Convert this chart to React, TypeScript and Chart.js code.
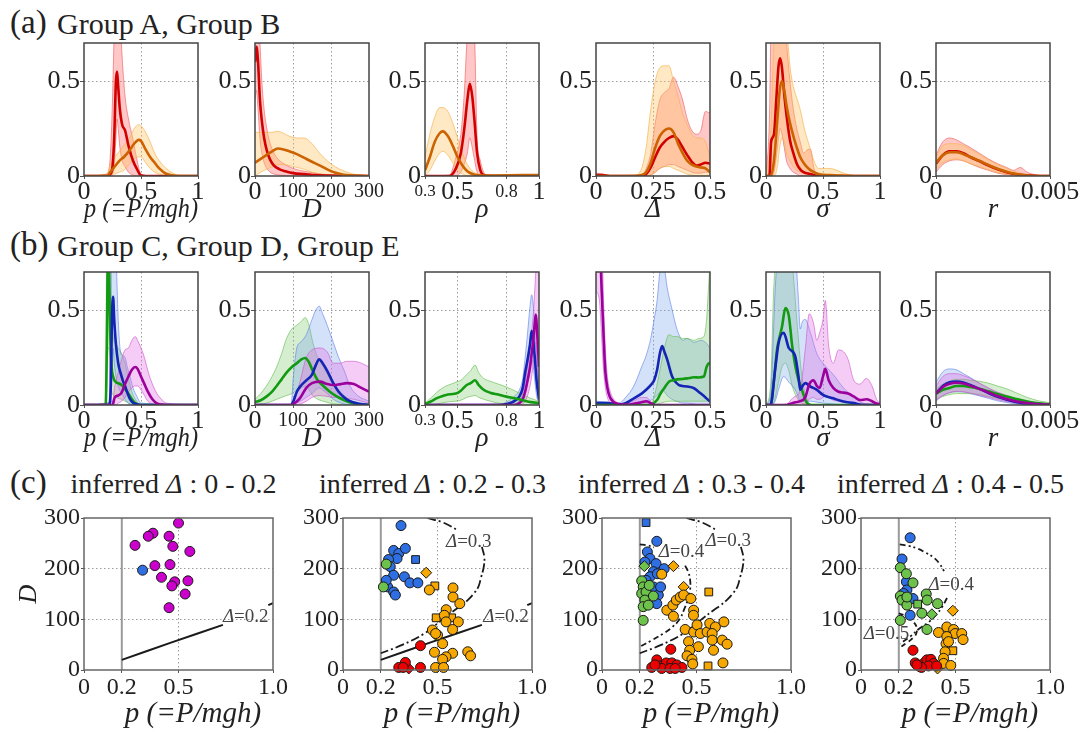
import React, { useEffect, useRef } from 'react';
import { Chart, registerables } from 'chart.js';

Chart.register(...registerables);

const SERIF = '"Liberation Serif", "DejaVu Serif", "Noto Serif", serif';
Chart.defaults.font.family = SERIF;
Chart.defaults.color = '#222';

// ---------------- headings ----------------
const rowHeadings = ['Group A, Group B', 'Group C, Group D, Group E'];
const scatterRanges = ['0 - 0.2', '0.2 - 0.3', '0.3 - 0.4', '0.4 - 0.5'];

// ---------------- density axes (values + labels) ----------------
const densYTicks = [0, 0.5];
const densYLabels = ['0', '0.5'];
const pTicks = [0, 0.5, 1];
const pTickLabels = ['0', '0.5', '1'];
const dTicks = [0, 100, 200, 300];
const dTickLabels = ['0', '100', '200', '300'];
const rhoTicks = [0.3, 0.5, 0.8, 1];
const rhoTickLabels = ['0.3', '0.5', '0.8', '1'];
const deltaTicks = [0, 0.25, 0.5];
const deltaTickLabels = ['0', '0.25', '0.5'];
const sigmaTicks = [0, 0.5, 1];
const sigmaTickLabels = ['0', '0.5', '1'];
const rTicks = [0, 0.005];
const rTickLabels = ['0', '0.005'];

// ---------------- row (a): Group A (red), Group B (orange) ----------------
const a1Red = {
  x: [0, 0.2, 0.23, 0.25, 0.265, 0.28, 0.29, 0.3, 0.315, 0.335, 0.36, 0.39, 0.43, 0.47, 0.5, 0.6, 1],
  mean: [0, 0, 0.01, 0.05, 0.2, 0.5, 0.55, 0.47, 0.35, 0.27, 0.24, 0.16, 0.08, 0.03, 0.003, 0, 0],
  upper: [0, 0.01, 0.1, 0.4, 0.75, 0.9, 0.9, 0.88, 0.85, 0.62, 0.42, 0.3, 0.19, 0.07, 0.01, 0, 0],
  lower: [0, 0, 0, 0.01, 0.05, 0.2, 0.3, 0.25, 0.15, 0.08, 0.05, 0.02, 0.005, 0, 0, 0, 0],
};
const a1Orange = {
  x: [0, 0.2, 0.23, 0.27, 0.31, 0.35, 0.4, 0.44, 0.48, 0.5, 0.54, 0.58, 0.62, 0.66, 0.72, 0.78, 0.85, 1],
  mean: [0, 0, 0.02, 0.05, 0.08, 0.1, 0.135, 0.17, 0.19, 0.185, 0.14, 0.1, 0.07, 0.04, 0.012, 0.003, 0, 0],
  upper: [0, 0.01, 0.06, 0.1, 0.13, 0.16, 0.2, 0.25, 0.27, 0.265, 0.23, 0.18, 0.12, 0.08, 0.04, 0.015, 0.002, 0],
  lower: [0, 0, 0, 0.01, 0.02, 0.03, 0.065, 0.09, 0.1, 0.1, 0.07, 0.04, 0.02, 0.01, 0, 0, 0, 0],
};
const a2Red = {
  x: [0, 4, 8, 13, 18, 24, 31, 40, 50, 65, 80, 100, 130, 160, 200, 300],
  mean: [0.6, 0.68, 0.6, 0.4, 0.29, 0.2, 0.135, 0.085, 0.055, 0.035, 0.025, 0.015, 0.01, 0.005, 0.002, 0],
  upper: [0.9, 0.9, 0.85, 0.7, 0.5, 0.35, 0.25, 0.17, 0.12, 0.08, 0.06, 0.04, 0.025, 0.015, 0.005, 0],
  lower: [0.4, 0.45, 0.35, 0.2, 0.12, 0.07, 0.04, 0.02, 0.01, 0.005, 0.002, 0, 0, 0, 0, 0],
};
const a2Orange = {
  x: [0, 15, 30, 45, 60, 75, 90, 110, 130, 150, 170, 190, 210, 230, 255, 280, 300],
  mean: [0.07, 0.09, 0.11, 0.13, 0.145, 0.14, 0.13, 0.115, 0.095, 0.075, 0.056, 0.035, 0.018, 0.008, 0.003, 0.001, 0],
  upper: [0.23, 0.23, 0.23, 0.23, 0.235, 0.225, 0.21, 0.2, 0.2, 0.17, 0.12, 0.08, 0.05, 0.03, 0.012, 0.004, 0],
  lower: [0, 0.02, 0.035, 0.05, 0.06, 0.06, 0.055, 0.045, 0.035, 0.02, 0.01, 0.004, 0, 0, 0, 0, 0],
};
const a3Orange = {
  x: [0.3, 0.33, 0.36, 0.39, 0.41, 0.44, 0.47, 0.5, 0.53, 0.56, 0.6, 0.65, 0.75, 0.9, 1],
  mean: [0.03, 0.1, 0.18, 0.225, 0.235, 0.21, 0.16, 0.1, 0.055, 0.025, 0.008, 0.002, 0.003, 0.005, 0.005],
  upper: [0.1, 0.22, 0.31, 0.36, 0.36, 0.34, 0.28, 0.2, 0.12, 0.06, 0.02, 0.008, 0.006, 0.008, 0.008],
  lower: [0, 0.03, 0.08, 0.12, 0.13, 0.11, 0.07, 0.03, 0.01, 0, 0, 0, 0, 0, 0],
};
const a3Red = {
  x: [0.3, 0.45, 0.49, 0.52, 0.54, 0.56, 0.575, 0.59, 0.605, 0.62, 0.64, 0.66, 0.7, 1],
  mean: [0, 0, 0.04, 0.12, 0.24, 0.4, 0.485, 0.42, 0.28, 0.12, 0.03, 0.005, 0, 0],
  upper: [0, 0.005, 0.1, 0.22, 0.42, 0.75, 0.9, 0.9, 0.72, 0.2, 0.08, 0.02, 0, 0],
  lower: [0, 0, 0, 0.02, 0.06, 0.12, 0.2, 0.15, 0.08, 0.02, 0, 0, 0, 0],
};
const a4Red = {
  x: [0, 0.03, 0.06, 0.2, 0.22, 0.24, 0.26, 0.28, 0.3, 0.32, 0.34, 0.36, 0.38, 0.4, 0.42, 0.44, 0.46, 0.48, 0.5],
  mean: [0.005, 0.005, 0, 0, 0.01, 0.045, 0.1, 0.15, 0.18, 0.2, 0.21, 0.19, 0.15, 0.11, 0.075, 0.055, 0.06, 0.07, 0.065],
  upper: [0.015, 0.01, 0, 0.005, 0.04, 0.12, 0.28, 0.4, 0.44, 0.46, 0.52, 0.47, 0.4, 0.3, 0.24, 0.22, 0.24, 0.34, 0.33],
  lower: [0, 0, 0, 0, 0, 0.005, 0.02, 0.04, 0.05, 0.06, 0.06, 0.05, 0.04, 0.03, 0.02, 0.015, 0.015, 0.02, 0.02],
};
const a4Orange = {
  x: [0, 0.17, 0.2, 0.22, 0.24, 0.26, 0.28, 0.3, 0.32, 0.34, 0.36, 0.38, 0.4, 0.42, 0.44, 0.46, 0.48, 0.5],
  mean: [0, 0, 0.005, 0.02, 0.07, 0.15, 0.21, 0.24, 0.25, 0.23, 0.17, 0.12, 0.08, 0.06, 0.05, 0.045, 0.04, 0.02],
  upper: [0, 0.005, 0.04, 0.15, 0.35, 0.5, 0.57, 0.58, 0.58, 0.5, 0.42, 0.33, 0.27, 0.22, 0.2, 0.2, 0.18, 0.1],
  lower: [0, 0, 0, 0, 0.005, 0.02, 0.04, 0.05, 0.05, 0.04, 0.03, 0.02, 0.01, 0.005, 0, 0, 0, 0],
};
const a5Red = {
  x: [0, 0.03, 0.045, 0.07, 0.09, 0.11, 0.125, 0.14, 0.16, 0.18, 0.21, 0.24, 0.27, 0.3, 0.33, 0.37, 0.39, 0.42, 0.45, 1],
  mean: [0, 0, 0.18, 0.22, 0.4, 0.58, 0.62, 0.57, 0.43, 0.32, 0.19, 0.12, 0.065, 0.035, 0.02, 0.013, 0.01, 0.005, 0, 0],
  upper: [0, 0.3, 0.8, 0.9, 0.9, 0.9, 0.9, 0.9, 0.85, 0.7, 0.5, 0.35, 0.25, 0.18, 0.12, 0.14, 0.14, 0.04, 0.01, 0],
  lower: [0, 0, 0, 0.02, 0.1, 0.2, 0.25, 0.22, 0.15, 0.08, 0.04, 0.02, 0.01, 0, 0, 0, 0, 0, 0, 0],
};
const a5Orange = {
  x: [0, 0.04, 0.07, 0.1, 0.12, 0.14, 0.16, 0.18, 0.21, 0.24, 0.27, 0.3, 0.34, 0.38, 0.42, 0.46, 0.5, 0.55, 0.6, 0.66, 0.72, 0.78, 1],
  mean: [0, 0, 0.08, 0.3, 0.45, 0.5, 0.45, 0.37, 0.28, 0.21, 0.15, 0.1, 0.06, 0.035, 0.02, 0.01, 0.006, 0.005, 0.004, 0.002, 0.001, 0, 0],
  upper: [0, 0.2, 0.7, 0.9, 0.9, 0.9, 0.9, 0.8, 0.58, 0.47, 0.41, 0.35, 0.24, 0.16, 0.08, 0.04, 0.04, 0.04, 0.035, 0.02, 0.008, 0, 0],
  lower: [0, 0, 0, 0.05, 0.15, 0.2, 0.18, 0.12, 0.08, 0.05, 0.03, 0.02, 0.01, 0, 0, 0, 0, 0, 0, 0, 0, 0, 0],
};
const a6X = [0, 0.0003, 0.0006, 0.0009, 0.0012, 0.0015, 0.0019, 0.0023, 0.0027, 0.0031, 0.0034, 0.0037, 0.004, 0.0045, 0.005];
const a6Red = {
  x: a6X,
  mean: [0.065, 0.11, 0.13, 0.13, 0.12, 0.1, 0.078, 0.055, 0.035, 0.02, 0.012, 0.006, 0.003, 0, 0],
  upper: [0.11, 0.18, 0.2, 0.19, 0.17, 0.15, 0.12, 0.09, 0.065, 0.045, 0.03, 0.045, 0.02, 0.004, 0],
  lower: [0.02, 0.06, 0.08, 0.085, 0.08, 0.065, 0.045, 0.03, 0.015, 0.007, 0.003, 0.001, 0, 0, 0],
};
const a6Orange = {
  x: a6X,
  mean: [0.07, 0.11, 0.125, 0.125, 0.115, 0.1, 0.08, 0.058, 0.038, 0.022, 0.013, 0.007, 0.003, 0, 0],
  upper: [0.1, 0.16, 0.17, 0.17, 0.16, 0.14, 0.115, 0.085, 0.06, 0.04, 0.025, 0.015, 0.008, 0.002, 0],
  lower: [0.035, 0.07, 0.085, 0.09, 0.08, 0.065, 0.05, 0.033, 0.02, 0.01, 0.005, 0.002, 0, 0, 0],
};

// ---------------- row (b): green, blue, purple ----------------
const b1Green = {
  x: [0, 0.19, 0.2, 0.21, 0.22, 0.23, 0.24, 0.26, 0.28, 0.3, 0.33, 0.36, 0.39, 0.42, 0.45, 0.5, 1],
  mean: [0, 0, 0.3, 0.8, 0.7, 0.38, 0.22, 0.14, 0.12, 0.115, 0.105, 0.085, 0.06, 0.03, 0.01, 0, 0],
  upper: [0, 0.01, 0.9, 0.9, 0.9, 0.8, 0.5, 0.35, 0.32, 0.3, 0.27, 0.22, 0.14, 0.07, 0.03, 0, 0],
  lower: [0, 0, 0.1, 0.3, 0.3, 0.15, 0.08, 0.05, 0.04, 0.035, 0.03, 0.02, 0.01, 0.003, 0, 0, 0],
};
const b1Blue = {
  x: [0, 0.22, 0.235, 0.245, 0.255, 0.265, 0.28, 0.3, 0.32, 0.34, 0.36, 0.38, 0.4, 0.43, 0.46, 0.5, 1],
  mean: [0, 0, 0.1, 0.45, 0.57, 0.45, 0.32, 0.22, 0.17, 0.13, 0.1, 0.065, 0.035, 0.012, 0.004, 0, 0],
  upper: [0, 0.01, 0.5, 0.9, 0.9, 0.9, 0.8, 0.45, 0.28, 0.26, 0.25, 0.2, 0.16, 0.09, 0.05, 0.01, 0],
  lower: [0, 0, 0.02, 0.15, 0.3, 0.22, 0.15, 0.1, 0.07, 0.05, 0.03, 0.015, 0.005, 0, 0, 0, 0],
};
const b1Purple = {
  x: [0, 0.25, 0.27, 0.3, 0.33, 0.36, 0.39, 0.42, 0.45, 0.47, 0.5, 0.53, 0.56, 0.6, 0.64, 0.68, 0.72, 1],
  mean: [0, 0, 0.04, 0.05, 0.065, 0.11, 0.15, 0.185, 0.2, 0.19, 0.15, 0.11, 0.07, 0.03, 0.008, 0.002, 0, 0],
  upper: [0, 0.02, 0.1, 0.17, 0.24, 0.29, 0.3, 0.34, 0.36, 0.34, 0.3, 0.25, 0.18, 0.11, 0.06, 0.03, 0.01, 0],
  lower: [0, 0, 0, 0.01, 0.02, 0.04, 0.07, 0.09, 0.1, 0.1, 0.08, 0.05, 0.02, 0.005, 0, 0, 0, 0],
};
const b2Green = {
  x: [0, 15, 30, 45, 57, 70, 83, 97, 110, 122, 132, 142, 152, 165, 180, 197, 215, 235, 255, 280, 300],
  mean: [0.015, 0.025, 0.044, 0.07, 0.1, 0.135, 0.17, 0.2, 0.22, 0.24, 0.247, 0.225, 0.18, 0.13, 0.1, 0.07, 0.045, 0.025, 0.01, 0.003, 0],
  upper: [0.03, 0.06, 0.1, 0.15, 0.2, 0.27, 0.35, 0.4, 0.42, 0.44, 0.46, 0.42, 0.33, 0.25, 0.2, 0.14, 0.09, 0.05, 0.02, 0.008, 0],
  lower: [0, 0.005, 0.01, 0.02, 0.03, 0.04, 0.05, 0.06, 0.08, 0.09, 0.1, 0.08, 0.05, 0.03, 0.02, 0.01, 0.005, 0, 0, 0, 0],
};
const b2Blue = {
  x: [0, 95, 101, 110, 120, 135, 150, 160, 169, 178, 190, 206, 220, 235, 250, 270, 300],
  mean: [0, 0, 0.02, 0.07, 0.1, 0.13, 0.16, 0.21, 0.24, 0.22, 0.18, 0.115, 0.07, 0.04, 0.02, 0.008, 0],
  upper: [0, 0, 0.15, 0.3, 0.33, 0.37, 0.45, 0.5, 0.52, 0.48, 0.42, 0.33, 0.25, 0.18, 0.1, 0.05, 0.02],
  lower: [0, 0, 0, 0.01, 0.02, 0.04, 0.06, 0.08, 0.09, 0.08, 0.06, 0.03, 0.015, 0.005, 0, 0, 0],
};
const b2Purple = {
  x: [0, 95, 101, 118, 135, 150, 171, 190, 206, 225, 241, 260, 280, 300],
  mean: [0, 0, 0.005, 0.035, 0.09, 0.115, 0.123, 0.11, 0.105, 0.11, 0.115, 0.11, 0.09, 0.07],
  upper: [0, 0, 0.02, 0.12, 0.25, 0.29, 0.3, 0.28, 0.22, 0.22, 0.23, 0.23, 0.22, 0.2],
  lower: [0, 0, 0, 0.005, 0.02, 0.04, 0.05, 0.045, 0.04, 0.04, 0.035, 0.03, 0.02, 0.01],
};
const b3Green = {
  x: [0.3, 0.34, 0.37, 0.4, 0.43, 0.46, 0.49, 0.52, 0.556, 0.58, 0.607, 0.63, 0.66, 0.7, 0.75, 0.8, 0.85, 0.9, 0.95, 1],
  mean: [0.005, 0.02, 0.035, 0.045, 0.053, 0.057, 0.06, 0.075, 0.105, 0.115, 0.13, 0.105, 0.08, 0.065, 0.055, 0.044, 0.035, 0.025, 0.015, 0.01],
  upper: [0.01, 0.04, 0.065, 0.085, 0.1, 0.11, 0.12, 0.13, 0.16, 0.18, 0.21, 0.17, 0.14, 0.125, 0.11, 0.095, 0.075, 0.055, 0.035, 0.02],
  lower: [0, 0, 0.005, 0.01, 0.015, 0.018, 0.02, 0.025, 0.04, 0.045, 0.05, 0.04, 0.03, 0.02, 0.01, 0.005, 0.002, 0, 0, 0],
};
const b3Blue = {
  x: [0.3, 0.76, 0.8, 0.84, 0.88, 0.9, 0.915, 0.93, 0.945, 0.955, 0.965, 0.975, 0.985, 1],
  mean: [0, 0, 0.005, 0.017, 0.045, 0.09, 0.17, 0.24, 0.32, 0.39, 0.34, 0.24, 0.13, 0.03],
  upper: [0, 0.005, 0.015, 0.04, 0.08, 0.14, 0.25, 0.38, 0.52, 0.58, 0.52, 0.4, 0.25, 0.08],
  lower: [0, 0, 0, 0.005, 0.02, 0.04, 0.08, 0.12, 0.18, 0.24, 0.2, 0.12, 0.05, 0.005],
};
const b3Purple = {
  x: [0.3, 0.85, 0.88, 0.9, 0.915, 0.93, 0.945, 0.955, 0.965, 0.975, 0.98, 0.99, 1],
  mean: [0, 0, 0.01, 0.03, 0.07, 0.13, 0.2, 0.27, 0.34, 0.44, 0.475, 0.36, 0.2],
  upper: [0, 0.005, 0.02, 0.06, 0.12, 0.2, 0.3, 0.38, 0.48, 0.62, 0.7, 0.8, 0.9],
  lower: [0, 0, 0, 0.005, 0.02, 0.05, 0.1, 0.15, 0.22, 0.3, 0.33, 0.2, 0.05],
};
const b4Purple = {
  x: [0, 0.015, 0.025, 0.032, 0.04, 0.05, 0.06, 0.075, 0.09, 0.11, 0.14, 0.17, 0.2, 0.22, 0.24, 0.26, 0.5],
  mean: [0.95, 0.9, 0.6, 0.4, 0.19, 0.09, 0.045, 0.018, 0.008, 0.003, 0.002, 0.008, 0.015, 0.02, 0.01, 0, 0],
  upper: [1, 1, 0.9, 0.6, 0.32, 0.15, 0.08, 0.035, 0.015, 0.008, 0.01, 0.025, 0.04, 0.04, 0.02, 0, 0],
  lower: [0.6, 0.55, 0.35, 0.2, 0.1, 0.04, 0.015, 0.005, 0, 0, 0, 0, 0.002, 0.005, 0, 0, 0],
};
const b4Blue = {
  x: [0, 0.05, 0.1, 0.13, 0.166, 0.2, 0.22, 0.24, 0.255, 0.268, 0.28, 0.29, 0.3, 0.312, 0.334, 0.35, 0.364, 0.38, 0.4, 0.43, 0.46, 0.48, 0.5],
  mean: [0.01, 0.01, 0.002, 0.01, 0.035, 0.06, 0.08, 0.105, 0.13, 0.185, 0.27, 0.31, 0.28, 0.24, 0.15, 0.12, 0.105, 0.1, 0.097, 0.088, 0.06, 0.04, 0.018],
  upper: [0.02, 0.015, 0.01, 0.04, 0.1, 0.2, 0.26, 0.35, 0.45, 0.55, 0.7, 0.75, 0.72, 0.62, 0.5, 0.42, 0.37, 0.34, 0.35, 0.33, 0.34, 0.33, 0.3],
  lower: [0, 0, 0, 0, 0, 0.01, 0.015, 0.025, 0.035, 0.05, 0.07, 0.08, 0.07, 0.05, 0.03, 0.02, 0.015, 0.01, 0.01, 0.005, 0, 0, 0],
};
const b4Green = {
  x: [0, 0.24, 0.254, 0.27, 0.283, 0.3, 0.32, 0.34, 0.356, 0.38, 0.4, 0.43, 0.45, 0.473, 0.485, 0.495, 0.5],
  mean: [0, 0, 0.01, 0.03, 0.06, 0.09, 0.123, 0.13, 0.135, 0.137, 0.14, 0.146, 0.145, 0.15, 0.2, 0.22, 0.22],
  upper: [0, 0, 0.04, 0.12, 0.2, 0.3, 0.37, 0.36, 0.36, 0.35, 0.35, 0.34, 0.35, 0.36, 0.45, 0.65, 0.75],
  lower: [0, 0, 0, 0.005, 0.01, 0.015, 0.02, 0.02, 0.02, 0.02, 0.02, 0.02, 0.02, 0.02, 0.02, 0.02, 0.02],
};
const b5Green = {
  x: [0, 0.04, 0.067, 0.096, 0.12, 0.14, 0.17, 0.2, 0.23, 0.27, 0.315, 0.36, 0.4, 1],
  mean: [0, 0, 0.115, 0.29, 0.36, 0.41, 0.51, 0.47, 0.31, 0.167, 0.08, 0.01, 0, 0],
  upper: [0, 0.1, 0.6, 0.85, 0.9, 0.9, 0.9, 0.9, 0.75, 0.45, 0.15, 0.03, 0, 0],
  lower: [0, 0, 0.01, 0.08, 0.15, 0.2, 0.22, 0.18, 0.1, 0.04, 0.01, 0, 0, 0],
};
const b5Blue = {
  x: [0, 0.04, 0.08, 0.11, 0.155, 0.2, 0.257, 0.285, 0.3, 0.32, 0.344, 0.39, 0.446, 0.5, 0.59, 0.68, 0.77, 0.85, 1],
  mean: [0, 0, 0.185, 0.325, 0.38, 0.3, 0.255, 0.15, 0.08, 0.1, 0.115, 0.097, 0.08, 0.053, 0.035, 0.018, 0.01, 0, 0],
  upper: [0, 0.05, 0.6, 0.85, 0.9, 0.9, 0.8, 0.55, 0.4, 0.44, 0.45, 0.38, 0.27, 0.22, 0.16, 0.09, 0.04, 0.01, 0],
  lower: [0, 0, 0.02, 0.08, 0.15, 0.12, 0.08, 0.04, 0.02, 0.02, 0.02, 0.02, 0.015, 0.01, 0.005, 0, 0, 0, 0],
};
const b5Purple = {
  x: [0, 0.18, 0.24, 0.3, 0.344, 0.38, 0.417, 0.446, 0.47, 0.5, 0.52, 0.55, 0.59, 0.636, 0.68, 0.72, 0.77, 0.825, 0.88, 0.93, 0.97, 1],
  mean: [0, 0, 0.012, 0.02, 0.04, 0.11, 0.13, 0.1, 0.09, 0.15, 0.19, 0.13, 0.09, 0.07, 0.065, 0.06, 0.045, 0.026, 0.03, 0.02, 0.008, 0.004],
  upper: [0, 0.005, 0.04, 0.08, 0.29, 0.48, 0.43, 0.34, 0.38, 0.45, 0.55, 0.31, 0.22, 0.29, 0.28, 0.24, 0.13, 0.11, 0.14, 0.1, 0.03, 0.01],
  lower: [0, 0, 0, 0.005, 0.01, 0.03, 0.04, 0.03, 0.03, 0.04, 0.05, 0.04, 0.025, 0.02, 0.015, 0.012, 0.008, 0.005, 0.005, 0.003, 0, 0],
};
const b6X = [0, 0.0003, 0.0006, 0.0009, 0.0012, 0.0015, 0.0019, 0.0023, 0.0027, 0.0031, 0.0035, 0.004, 0.0045, 0.005];
const b6Green = {
  x: b6X,
  mean: [0.06, 0.08, 0.09, 0.1, 0.1, 0.095, 0.085, 0.072, 0.058, 0.045, 0.032, 0.018, 0.009, 0.004],
  upper: [0.085, 0.11, 0.125, 0.135, 0.135, 0.13, 0.125, 0.115, 0.1, 0.085, 0.065, 0.04, 0.022, 0.012],
  lower: [0.03, 0.045, 0.055, 0.06, 0.06, 0.06, 0.055, 0.045, 0.035, 0.025, 0.015, 0.005, 0.002, 0],
};
const b6Blue = {
  x: b6X,
  mean: [0.06, 0.1, 0.12, 0.123, 0.118, 0.105, 0.085, 0.063, 0.043, 0.028, 0.016, 0.007, 0.003, 0.001],
  upper: [0.12, 0.175, 0.19, 0.185, 0.165, 0.145, 0.115, 0.088, 0.063, 0.043, 0.027, 0.013, 0.006, 0.003],
  lower: [0.02, 0.05, 0.065, 0.07, 0.068, 0.06, 0.048, 0.035, 0.022, 0.013, 0.006, 0.002, 0, 0],
};
const b6Purple = {
  x: b6X,
  mean: [0.06, 0.095, 0.112, 0.117, 0.113, 0.102, 0.085, 0.066, 0.047, 0.032, 0.02, 0.01, 0.005, 0.002],
  upper: [0.1, 0.15, 0.165, 0.165, 0.155, 0.14, 0.115, 0.09, 0.068, 0.05, 0.034, 0.02, 0.01, 0.005],
  lower: [0.025, 0.05, 0.065, 0.072, 0.07, 0.063, 0.052, 0.04, 0.028, 0.018, 0.01, 0.004, 0.001, 0],
};

// ---------------- row (c): scatter (p, D) ----------------
const scatterXTicks = [0, 0.2, 0.5, 1];
const scatterXLabels = ['0', '0.2', '0.5', '1.0'];
const scatterYTicks = [0, 100, 200, 300];
const scatterYLabels = ['0', '100', '200', '300'];
const thresholdLine = [[0.2, 0], [0.2, 300]];

const c1Magenta = [[0.5, 290], [0.365, 270], [0.34, 264], [0.27, 246], [0.45, 264], [0.47, 244], [0.56, 234], [0.375, 206], [0.455, 208], [0.41, 183], [0.48, 174], [0.465, 166], [0.55, 176], [0.535, 150], [0.45, 123]];
const c1Blue = [[0.31, 197]];

const c2Blue = [[0.307, 285], [0.268, 236], [0.295, 230], [0.33, 240], [0.286, 220], [0.241, 218], [0.25, 204], [0.268, 187], [0.325, 184], [0.354, 172], [0.396, 172], [0.236, 164], [0.268, 154], [0.277, 148], [0.229, 177]];
const c2BlueSquare = [[0.384, 218]];
const c2Green = [[0.229, 209], [0.214, 164]];
const c2OrangeDiamond = [[0.44, 192]];
const c2OrangeSquare = [[0.486, 166], [0.493, 103], [0.575, 103]];
const c2Orange = [[0.457, 158], [0.582, 162], [0.582, 144], [0.618, 131], [0.546, 119], [0.536, 108], [0.545, 95], [0.61, 95], [0.58, 80], [0.473, 79], [0.5, 69], [0.49, 72], [0.527, 52], [0.484, 35], [0.58, 33], [0.545, 26], [0.527, 21], [0.66, 36], [0.675, 28], [0.49, 5], [0.532, 5]];
const c2Red = [[0.41, 48], [0.33, 15], [0.295, 5], [0.318, 5], [0.41, 5]];
const c2RedDiamond = [[0.348, 3]];

const c3BlueSquare = [[0.233, 291]];
const c3Blue = [[0.29, 254], [0.24, 233], [0.254, 220], [0.286, 210], [0.227, 213], [0.329, 200], [0.272, 194], [0.254, 184], [0.293, 190], [0.233, 177], [0.272, 164], [0.298, 148], [0.29, 131], [0.31, 164]];
const c3GreenDiamond = [[0.224, 205]];
const c3Green = [[0.21, 176], [0.218, 164], [0.21, 151], [0.233, 154], [0.227, 138], [0.218, 125], [0.245, 128], [0.218, 98], [0.272, 146], [0.25, 167]];
const c3OrangeDiamond = [[0.378, 205], [0.432, 164]];
const c3OrangeSquare = [[0.565, 154], [0.561, 8]];
const c3Orange = [[0.316, 189], [0.343, 118], [0.378, 106], [0.375, 128], [0.393, 138], [0.414, 144], [0.432, 148], [0.47, 141], [0.485, 118], [0.484, 108], [0.44, 80], [0.485, 75], [0.503, 89], [0.52, 72], [0.556, 75], [0.57, 92], [0.6, 85], [0.583, 72], [0.583, 59], [0.636, 59], [0.645, 95], [0.662, 51], [0.59, 39], [0.51, 46], [0.458, 56], [0.464, 39], [0.45, 28], [0.476, 21], [0.48, 12], [0.64, 14]];
const c3Red = [[0.364, 41], [0.29, 20], [0.263, 5], [0.307, 8], [0.34, 14], [0.37, 14], [0.396, 10], [0.423, 5], [0.316, 3], [0.36, 3], [0.28, 10], [0.387, 3]];

const c4Blue = [[0.26, 261], [0.217, 219], [0.24, 174], [0.243, 158], [0.225, 151], [0.275, 141], [0.26, 108]];
const c4Green = [[0.208, 202], [0.24, 190], [0.275, 172], [0.208, 146], [0.217, 138], [0.243, 128], [0.208, 98], [0.322, 112], [0.345, 150], [0.35, 138], [0.405, 131], [0.349, 80], [0.243, 144]];
const c4GreenSquare = [[0.3, 130]];
const c4GreenDiamond = [[0.375, 110]];
const c4OrangeDiamond = [[0.486, 117], [0.405, 3]];
const c4OrangeSquare = [[0.486, 38]];
const c4Orange = [[0.41, 74], [0.454, 85], [0.49, 80], [0.498, 72], [0.533, 72], [0.54, 60], [0.454, 66], [0.45, 52], [0.445, 36], [0.437, 23], [0.437, 13], [0.475, 9], [0.463, 56]];
const c4Red = [[0.275, 39], [0.287, 14], [0.31, 7], [0.335, 14], [0.349, 20], [0.37, 21], [0.384, 13], [0.357, 8], [0.32, 5], [0.296, 10], [0.4, 8]];

// contour lines of inferred Δ (visible pieces, broken where labelled)
const delta02Main = [[0.2, 20], [0.46, 54], [0.735, 89]];
const delta02Tail = [[0.975, 128], [1.0, 132]];
const delta03Top = [[0.446, 300], [0.53, 291], [0.607, 276]];
const delta03Rest = [[0.735, 243], [0.748, 222], [0.745, 204], [0.73, 182], [0.716, 164], [0.69, 150], [0.66, 138], [0.625, 127], [0.59, 118], [0.52, 98], [0.43, 72], [0.31, 49], [0.2, 33]];
const c3Delta04Top = [[0.2, 248], [0.24, 246], [0.275, 242]];
const c3Delta04Rest = [[0.44, 206], [0.458, 192], [0.467, 175], [0.466, 158], [0.455, 140], [0.435, 120], [0.41, 100], [0.37, 84], [0.325, 72], [0.26, 58], [0.2, 46]];
const c4Delta04Top = [[0.205, 248], [0.25, 245], [0.296, 240], [0.34, 232], [0.384, 222], [0.415, 210], [0.44, 195]];
const c4Delta04Rest = [[0.455, 142], [0.43, 125], [0.4, 110], [0.36, 95], [0.313, 83], [0.26, 66], [0.208, 52]];
const c4Delta05 = [[0.2, 112], [0.24, 106], [0.275, 96], [0.295, 84], [0.29, 70], [0.265, 60], [0.235, 52], [0.205, 44]];

const c1CurveLabels = [{ p: 0.735, D: 104, v: '0.2' }];
const c2CurveLabels = [{ p: 0.545, D: 252, v: '0.3' }, { p: 0.742, D: 104, v: '0.2' }];
const c3CurveLabels = [{ p: 0.3, D: 232, v: '0.4' }, { p: 0.547, D: 254, v: '0.3' }];
const c4CurveLabels = [{ p: 0.357, D: 168, v: '0.4' }, { p: 0.014, D: 72, v: '0.5' }];

// ---------------- styling ----------------
const CLEAR = 'rgba(0,0,0,0)';
const GRID = '#9a9a9a';
const RED = { line: '#d20000', fill: 'rgba(255,100,100,0.36)', edge: 'rgba(240,95,95,0.8)' };
const ORANGE = { line: '#cc6200', fill: 'rgba(255,196,100,0.38)', edge: 'rgba(245,178,80,0.85)' };
const GREEN = { line: '#129a12', fill: 'rgba(120,200,100,0.30)', edge: 'rgba(100,190,80,0.8)' };
const BLUE = { line: '#1424b4', fill: 'rgba(120,165,235,0.32)', edge: 'rgba(100,130,235,0.8)' };
const PURPLE = { line: '#9c009c', fill: 'rgba(225,110,225,0.35)', edge: 'rgba(205,90,205,0.8)' };
const PT = { magenta: '#cc00cc', blue: '#2e6fe3', green: '#6dc24b', orange: '#f7a800', red: '#ee0000' };

const pts = (xs: number[], ys: number[]) => xs.map((x, i) => ({ x, y: ys[i] }));
const pairPts = (arr: number[][]) => arr.map(([x, y]) => ({ x, y }));

const framePlugin = (color: string) => ({
  id: 'frame',
  afterDatasetsDraw(chart: any) {
    const { ctx, chartArea: a } = chart;
    ctx.save();
    ctx.strokeStyle = color;
    ctx.lineWidth = 1.5;
    ctx.strokeRect(a.left, a.top, a.right - a.left, a.bottom - a.top);
    ctx.restore();
  },
});

const curveLabelPlugin = (labels: { p: number; D: number; v: string }[]) => ({
  id: 'curveLabels',
  afterDatasetsDraw(chart: any) {
    const { ctx } = chart;
    const x = chart.scales.x;
    const y = chart.scales.y;
    ctx.save();
    ctx.fillStyle = '#444';
    ctx.textBaseline = 'middle';
    ctx.textAlign = 'left';
    labels.forEach((l) => {
      const px = x.getPixelForValue(l.p);
      const py = y.getPixelForValue(l.D);
      ctx.font = `italic 19px ${SERIF}`;
      ctx.fillText('\u0394', px, py);
      const w = ctx.measureText('\u0394').width;
      ctx.font = `19px ${SERIF}`;
      ctx.fillText('=' + l.v, px + w, py);
    });
    ctx.restore();
  },
});

function xScale(o: any) {
  return {
    type: 'linear',
    min: o.min,
    max: o.max,
    afterBuildTicks: (s: any) => { s.ticks = o.ticks.map((v: number) => ({ value: v })); },
    afterFit: (s: any) => { s.height = o.mb; s.paddingLeft = 0; s.paddingRight = 0; },
    ticks: {
      autoSkip: false, maxRotation: 0, minRotation: 0, padding: o.pad, color: '#222',
      font: (c: any) => ({ family: SERIF, size: o.sizes[c.index] ?? o.sizes[0], lineHeight: o.lh + 'px' }),
      callback: (_v: any, i: number) => o.labels[i],
    },
    grid: {
      color: (c: any) => (c.tick && o.grid.includes(c.tick.value) ? GRID : CLEAR),
      lineWidth: 1, drawTicks: true, tickLength: o.tl, tickColor: '#555', tickWidth: 1,
    },
    border: { display: false, dash: [1.5, 2.5] },
    title: {
      display: true, text: o.title, color: '#222',
      font: { family: SERIF, size: o.titleSize, style: 'italic' },
      padding: { top: 0, bottom: o.titlePad },
    },
  };
}

function yScale(o: any) {
  return {
    type: 'linear',
    min: o.min,
    max: o.max,
    afterBuildTicks: (s: any) => { s.ticks = o.ticks.map((v: number) => ({ value: v })); },
    afterFit: (s: any) => { s.width = o.ml; s.paddingTop = 0; s.paddingBottom = 0; },
    ticks: {
      autoSkip: false, padding: o.pad, color: '#222',
      font: { family: SERIF, size: o.size },
      callback: (_v: any, i: number) => o.labels[i],
    },
    grid: {
      color: (c: any) => (c.tick && o.grid.includes(c.tick.value) ? GRID : CLEAR),
      lineWidth: 1, drawTicks: true, tickLength: o.tl, tickColor: '#555', tickWidth: 1,
    },
    border: { display: false, dash: [1.5, 2.5] },
    title: o.title
      ? { display: true, text: o.title, color: '#222', font: { family: SERIF, size: 26, style: 'italic' }, padding: { top: 0, bottom: 0 } }
      : { display: false },
  };
}

const DM = { ml: 62, mr: 34, mt: 8, mb: 50 };
const SM = { ml: 70, mr: 34, mt: 16, mb: 62 };

function densityConfig(ax: any, series: any[]) {
  const datasets: any[] = [];
  series.forEach(([s, c]) => {
    datasets.push({ data: pts(s.x, s.upper), borderColor: c.edge, borderWidth: 0.8, pointRadius: 0, fill: false, order: 3, cubicInterpolationMode: 'monotone' });
    datasets.push({ data: pts(s.x, s.lower), borderColor: c.edge, borderWidth: 0.8, pointRadius: 0, fill: '-1', backgroundColor: c.fill, order: 3, cubicInterpolationMode: 'monotone' });
  });
  series.forEach(([s, c]) => {
    datasets.push({ data: pts(s.x, s.mean), borderColor: c.line, borderWidth: 2.6, pointRadius: 0, fill: false, order: 1, cubicInterpolationMode: 'monotone' });
  });
  return {
    type: 'line',
    data: { datasets },
    options: {
      responsive: false, animation: false, events: [],
      layout: { padding: { left: 0, right: DM.mr, top: DM.mt, bottom: 0 } },
      plugins: { legend: { display: false }, tooltip: { enabled: false } },
      scales: {
        x: xScale({ ...ax, mb: DM.mb, tl: 3, pad: 0, lh: 26, titleSize: 27, titlePad: 0 }),
        y: yScale({ min: 0, max: 0.7, ticks: densYTicks, labels: densYLabels, grid: [0.5], ml: DM.ml, tl: 4, pad: 0, size: 26 }),
      },
    },
    plugins: [framePlugin('#444')],
  };
}

function scatterConfig(spec: any) {
  const datasets: any[] = [
    { data: pairPts(thresholdLine), showLine: true, borderColor: '#9a9a9a', borderWidth: 2, pointRadius: 0, fill: false, order: 9 },
    ...spec.curves.map((c: any) => ({ data: pairPts(c.pts), showLine: true, borderColor: '#1a1a1a', borderWidth: c.w, borderDash: c.dash, pointRadius: 0, tension: 0.4, fill: false, order: 5 })),
    ...spec.points.map((g: any) => ({
      data: pairPts(g.pts), showLine: false, pointStyle: g.style, pointRadius: g.r,
      pointBackgroundColor: g.color, pointBorderColor: '#1a1a1a', pointBorderWidth: 1, clip: false, order: 1,
    })),
  ];
  return {
    type: 'line',
    data: { datasets },
    options: {
      responsive: false, animation: false, events: [],
      layout: { padding: { left: 0, right: SM.mr, top: SM.mt, bottom: 0 } },
      plugins: { legend: { display: false }, tooltip: { enabled: false } },
      scales: {
        x: xScale({ min: 0, max: 1, ticks: scatterXTicks, labels: scatterXLabels, sizes: [24], grid: [0.5], title: '    p (=P/mgh)', mb: SM.mb, tl: 3, pad: 1, lh: 28, titleSize: 29, titlePad: 0 }),
        y: yScale({ min: 0, max: 300, ticks: scatterYTicks, labels: scatterYLabels, grid: [100, 200], ml: SM.ml, tl: 3, pad: 1, size: 24, title: spec.yTitle }),
      },
    },
    plugins: [framePlugin('#666'), curveLabelPlugin(spec.labels)],
  };
}

function ChartCanvas({ left, top, width, height, make }: any) {
  const ref = useRef<HTMLCanvasElement | null>(null);
  useEffect(() => {
    if (!ref.current) return;
    const chart = new Chart(ref.current, make());
    return () => chart.destroy();
  }, []);
  return <canvas ref={ref} width={width} height={height} style={{ position: 'absolute', left, top, width, height }} />;
}

const DENS_LEFTS = [84, 255, 425, 596, 766, 936];
const DENS_W = 114;
const DENS_H = 133;
const ROW_TOPS = [43, 272];
const SC_LEFTS = [84, 343, 602, 861];
const SC_W = 189;
const SC_H = 152;
const SC_TOP = 518;

export default function App() {
  const axes = [
    { min: 0, max: 1, ticks: pTicks, labels: pTickLabels, sizes: [26, 26, 26], grid: [0.5], title: 'p (=P/mgh)' },
    { min: 0, max: 300, ticks: dTicks, labels: dTickLabels, sizes: [26, 20, 20, 20], grid: [100, 200], title: 'D' },
    { min: 0.3, max: 1, ticks: rhoTicks, labels: rhoTickLabels, sizes: [17, 26, 18, 26], grid: [0.5, 0.8], title: '\u03C1' },
    { min: 0, max: 0.5, ticks: deltaTicks, labels: deltaTickLabels, sizes: [26, 26, 26], grid: [0.25], title: '\u0394' },
    { min: 0, max: 1, ticks: sigmaTicks, labels: sigmaTickLabels, sizes: [26, 26, 26], grid: [0.5], title: '\u03C3' },
    { min: 0, max: 0.005, ticks: rTicks, labels: rTickLabels, sizes: [26, 26], grid: [], title: 'r' },
  ];
  const rowA = [
    [[a1Orange, ORANGE], [a1Red, RED]],
    [[a2Orange, ORANGE], [a2Red, RED]],
    [[a3Orange, ORANGE], [a3Red, RED]],
    [[a4Orange, ORANGE], [a4Red, RED]],
    [[a5Orange, ORANGE], [a5Red, RED]],
    [[a6Orange, ORANGE], [a6Red, RED]],
  ];
  const rowB = [
    [[b1Purple, PURPLE], [b1Blue, BLUE], [b1Green, GREEN]],
    [[b2Purple, PURPLE], [b2Blue, BLUE], [b2Green, GREEN]],
    [[b3Green, GREEN], [b3Purple, PURPLE], [b3Blue, BLUE]],
    [[b4Purple, PURPLE], [b4Green, GREEN], [b4Blue, BLUE]],
    [[b5Purple, PURPLE], [b5Blue, BLUE], [b5Green, GREEN]],
    [[b6Purple, PURPLE], [b6Green, GREEN], [b6Blue, BLUE]],
  ];

  const circle = (p: number[][], color: string) => ({ pts: p, color, style: 'circle', r: 5 });
  const square = (p: number[][], color: string) => ({ pts: p, color, style: 'rect', r: 5.5 });
  const diamond = (p: number[][], color: string) => ({ pts: p, color, style: 'rectRot', r: 5.5 });
  const solid = (p: number[][]) => ({ pts: p, w: 2, dash: [] });
  const dashDot = (p: number[][]) => ({ pts: p, w: 1.8, dash: [9, 3, 2, 3] });
  const dashDotShort = (p: number[][]) => ({ pts: p, w: 1.8, dash: [6, 3, 2, 3] });
  const dashDotDot = (p: number[][]) => ({ pts: p, w: 1.8, dash: [6, 3, 2, 3, 2, 3] });
  const dashed = (p: number[][]) => ({ pts: p, w: 1.8, dash: [5, 4] });

  const scatters = [
    {
      yTitle: 'D',
      curves: [solid(delta02Main), solid(delta02Tail)],
      points: [circle(c1Magenta, PT.magenta), circle(c1Blue, PT.blue)],
      labels: c1CurveLabels,
    },
    {
      curves: [solid(delta02Main), solid(delta02Tail), dashDot(delta03Top), dashDot(delta03Rest)],
      points: [
        circle(c2Red, PT.red), diamond(c2RedDiamond, PT.red),
        circle(c2Orange, PT.orange), square(c2OrangeSquare, PT.orange), diamond(c2OrangeDiamond, PT.orange),
        circle(c2Green, PT.green), circle(c2Blue, PT.blue), square(c2BlueSquare, PT.blue),
      ],
      labels: c2CurveLabels,
    },
    {
      curves: [dashDot(delta03Top), dashDot(delta03Rest), dashDotShort(c3Delta04Top), dashDotShort(c3Delta04Rest)],
      points: [
        circle(c3Red, PT.red),
        circle(c3Orange, PT.orange), square(c3OrangeSquare, PT.orange), diamond(c3OrangeDiamond, PT.orange),
        circle(c3Green, PT.green), diamond(c3GreenDiamond, PT.green),
        circle(c3Blue, PT.blue), square(c3BlueSquare, PT.blue),
      ],
      labels: c3CurveLabels,
    },
    {
      curves: [dashDotDot(c4Delta04Top), dashDotDot(c4Delta04Rest), dashed(c4Delta05)],
      points: [
        circle(c4Red, PT.red),
        circle(c4Orange, PT.orange), square(c4OrangeSquare, PT.orange), diamond(c4OrangeDiamond, PT.orange),
        circle(c4Green, PT.green), square(c4GreenSquare, PT.green), diamond(c4GreenDiamond, PT.green),
        circle(c4Blue, PT.blue),
      ],
      labels: c4CurveLabels,
    },
  ];

  const canvases: any[] = [];
  [rowA, rowB].forEach((row, r) => {
    row.forEach((series, i) => {
      canvases.push({
        key: `d${r}${i}`,
        left: DENS_LEFTS[i] - DM.ml,
        top: ROW_TOPS[r] - DM.mt,
        width: DENS_W + DM.ml + DM.mr,
        height: DENS_H + DM.mt + DM.mb,
        make: () => densityConfig(axes[i], series),
      });
    });
  });
  scatters.forEach((spec, i) => {
    canvases.push({
      key: `s${i}`,
      left: SC_LEFTS[i] - SM.ml,
      top: SC_TOP - SM.mt,
      width: SC_W + SM.ml + SM.mr,
      height: SC_H + SM.mt + SM.mb,
      make: () => scatterConfig(spec),
    });
  });

  const txt = (extra: any): any => ({ position: 'absolute', lineHeight: 1, whiteSpace: 'nowrap', fontFamily: SERIF, color: '#222', ...extra });

  return (
    <div style={{ position: 'absolute', left: 0, top: 0, width: 1084, height: 734, background: '#fff', overflow: 'hidden' }}>
      <div style={txt({ left: 10, top: 6, fontSize: 33 })}>(a)</div>
      <div style={txt({ left: 57, top: 9, fontSize: 30 })}>{rowHeadings[0]}</div>
      <div style={txt({ left: 10, top: 228, fontSize: 33 })}>(b)</div>
      <div style={txt({ left: 57, top: 231, fontSize: 30 })}>{rowHeadings[1]}</div>
      <div style={txt({ left: 10, top: 466, fontSize: 33 })}>(c)</div>
      {scatterRanges.map((rg, i) => (
        <div key={rg} style={txt({ left: SC_LEFTS[i] + SC_W / 2 - 5, top: 470, fontSize: 28, transform: 'translateX(-50%)' })}>
          inferred <i>{'\u0394'}</i> : {rg}
        </div>
      ))}
      {canvases.map((c) => (
        <ChartCanvas key={c.key} left={c.left} top={c.top} width={c.width} height={c.height} make={c.make} />
      ))}
    </div>
  );
}
